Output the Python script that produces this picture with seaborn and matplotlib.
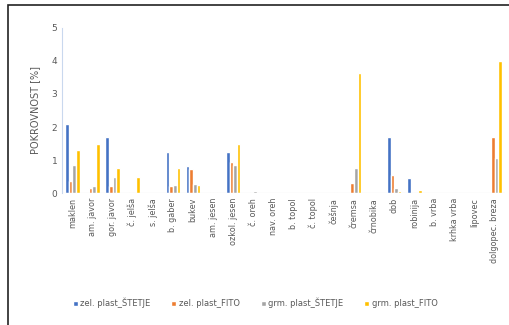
import numpy as np
import pandas as pd
import seaborn as sns
import matplotlib.pyplot as plt
from matplotlib.patches import Rectangle

# species on the x axis
vrste = ["maklen", "am. javor", "gor. javor", "č. jelša", "s. jelša", "b. gaber",
         "bukev", "am. jesen", "ozkol. jesen", "č. oreh", "nav. oreh", "b. topol",
         "č. topol", "češnja", "čremsa", "črnobika", "dob", "robinija", "b. vrba",
         "krhka vrba", "lipovec", "dolgopec. breza"]

# cover values [%]
zel_stetje = [2.1, 0.0, 1.7, 0.0, 0.0, 1.25, 0.82, 0.0, 1.25, 0.0, 0.0, 0.0,
              0.0, 0.0, 0.0, 0.0, 1.7, 0.45, 0.0, 0.0, 0.0, 0.0]
zel_fito = [0.35, 0.15, 0.2, 0.04, 0.0, 0.2, 0.72, 0.03, 0.95, 0.03, 0.0, 0.0,
            0.0, 0.0, 0.3, 0.0, 0.55, 0.0, 0.0, 0.0, 0.0, 1.7]
grm_stetje = [0.85, 0.2, 0.5, 0.0, 0.0, 0.25, 0.28, 0.03, 0.85, 0.05, 0.0, 0.0,
              0.02, 0.03, 0.75, 0.0, 0.15, 0.0, 0.0, 0.0, 0.0, 1.05]
grm_fito = [1.3, 1.5, 0.75, 0.5, 0.0, 0.75, 0.25, 0.03, 1.5, 0.0, 0.0, 0.0,
            0.0, 0.0, 3.65, 0.0, 0.05, 0.08, 0.0, 0.0, 0.0, 4.0]

serije = ["zel. plast_ŠTETJE", "zel. plast_FITO", "grm. plast_ŠTETJE", "grm. plast_FITO"]
barve = ["#4472C4", "#ED7D31", "#A5A5A5", "#FFC000"]

df = pd.DataFrame({
    "vrsta": vrste * 4,
    "serija": np.repeat(serije, len(vrste)),
    "pokrovnost": zel_stetje + zel_fito + grm_stetje + grm_fito,
})

sns.set_style("white")
plt.rcParams["font.family"] = ["DejaVu Sans"]

fig = plt.figure(figsize=(5.1, 3.25), dpi=100)
ax = fig.add_axes([0.122, 0.406, 0.868, 0.508])

sns.barplot(data=df, x="vrsta", y="pokrovnost", hue="serija", palette=barve,
            width=0.72, saturation=1, ax=ax, legend=True)

ax.set_ylim(0, 5)
ax.set_yticks(range(6))
ax.tick_params(axis="y", labelsize=6.5, colors="#595959", length=0)
ax.tick_params(axis="x", labelsize=5.8, colors="#595959", rotation=90, length=0)
ax.set_xlabel("")
ax.set_ylabel("POKROVNOST [%]", fontsize=7, color="#595959", labelpad=8)
for s in ["top", "right", "bottom"]:
    ax.spines[s].set_visible(False)
ax.spines["left"].set_color("#C9D8EE")
ax.spines["left"].set_linewidth(0.8)
ax.axhline(0, color="#D9D9D9", lw=0.8)

ax.get_legend().remove()
h, l = ax.get_legend_handles_labels()
fig.legend(h, l, loc="center", bbox_to_anchor=(0.5, 0.068), ncol=4, frameon=False,
           fontsize=6, handlelength=0.6, handleheight=0.6, columnspacing=2.5,
           handletextpad=0.3, labelcolor="#595959")

# chart frame
fig.patches.append(Rectangle((8 / 510, -0.05), 1.2, 1.0 - 5 / 325 + 0.05,
                             transform=fig.transFigure, fill=False,
                             edgecolor="#222222", lw=1.2))

fig.savefig("out.png", dpi=100)
